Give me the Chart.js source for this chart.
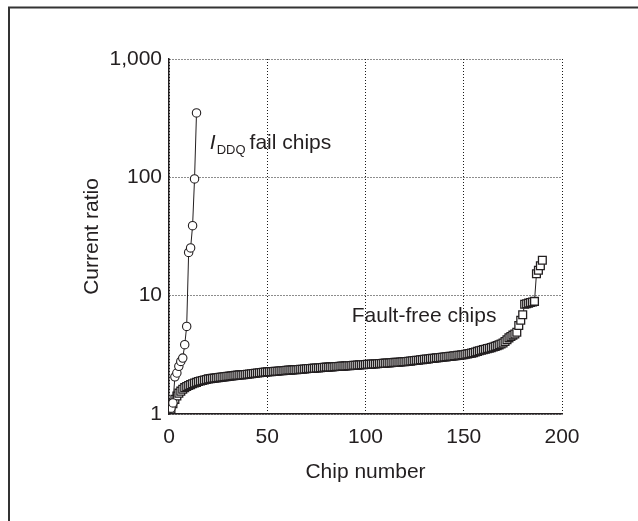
<!DOCTYPE html>
<html>
<head>
<meta charset="utf-8">
<script src="https://cdn.jsdelivr.net/npm/chart.js@4/dist/chart.umd.min.js"></script>
<style>
    html, body { margin: 0; padding: 0; background: #fff; }
    canvas { display: block; }
</style>
</head>
<body>
<canvas id="chart" width="638" height="521"></canvas>
<script>
// IDDQ fail chips (circles)
const failChips = [1, 2, 3, 4, 5, 6, 7, 8, 9, 10, 11, 12, 13, 14];
const failRatios = [1.12, 1.24, 2.06, 2.22, 2.53, 2.78, 2.97, 3.85, 5.5, 23.2, 25.3, 39, 97, 350];

// Fault-free chips (squares), chip 1..190
const faultFreeRatios = [
    1.10, 1.22, 1.33, 1.42, 1.50, 1.56, 1.62, 1.67, 1.71, 1.74,
    1.77, 1.80, 1.83, 1.85, 1.88, 1.90, 1.92, 1.94, 1.96, 1.98,
    1.99, 2.00, 2.01, 2.02, 2.03, 2.04, 2.05, 2.06, 2.07, 2.08,
    2.09, 2.10, 2.11, 2.12, 2.13, 2.14, 2.14, 2.15, 2.16, 2.17,
    2.18, 2.19, 2.20, 2.21, 2.22, 2.23, 2.24, 2.25, 2.26, 2.27,
    2.28, 2.28, 2.29, 2.30, 2.30, 2.31, 2.32, 2.32, 2.33, 2.34,
    2.35, 2.35, 2.36, 2.37, 2.37, 2.38, 2.39, 2.39, 2.40, 2.41,
    2.42, 2.42, 2.43, 2.44, 2.45, 2.45, 2.46, 2.47, 2.48, 2.49,
    2.49, 2.50, 2.50, 2.51, 2.52, 2.52, 2.53, 2.54, 2.54, 2.55,
    2.56, 2.56, 2.57, 2.58, 2.58, 2.59, 2.60, 2.61, 2.61, 2.62,
    2.63, 2.63, 2.64, 2.65, 2.65, 2.66, 2.67, 2.67, 2.68, 2.69,
    2.70, 2.70, 2.71, 2.72, 2.73, 2.74, 2.74, 2.75, 2.76, 2.77,
    2.78, 2.79, 2.80, 2.82, 2.83, 2.84, 2.85, 2.87, 2.88, 2.90,
    2.91, 2.92, 2.94, 2.95, 2.96, 2.98, 2.99, 3.00, 3.02, 3.03,
    3.04, 3.06, 3.07, 3.08, 3.10, 3.11, 3.13, 3.14, 3.16, 3.17,
    3.20, 3.22, 3.25, 3.27, 3.30, 3.34, 3.38, 3.42, 3.46, 3.50,
    3.53, 3.57, 3.60, 3.64, 3.68, 3.73, 3.78, 3.84, 3.91, 3.98,
    4.10, 4.24, 4.40, 4.52, 4.64, 4.75, 4.90, 5.60, 6.20, 6.90,
    8.45, 8.55, 8.65, 8.75, 8.85, 8.95, 15.3, 16.4, 17.9, 19.9
];

const xTickValues = [0, 50, 100, 150, 200];
const yTickValues = [1, 10, 100, 1000];
const yTickLabels = ['1', '10', '100', '1,000'];

const INK = '#231f20';
const FONT = "'Liberation Sans', Arial, Helvetica, sans-serif";
const FS = 21;

// frame + white page
const framePlugin = {
    id: 'frame',
    beforeDraw(chart) {
        const { ctx, width, height } = chart;
        ctx.save();
        ctx.fillStyle = '#fff';
        ctx.fillRect(0, 0, width, height);
        ctx.strokeStyle = '#333';
        ctx.lineWidth = 2;
        ctx.beginPath();
        ctx.moveTo(9, height);
        ctx.lineTo(9, 7.5);
        ctx.lineTo(width, 7.5);
        ctx.stroke();
        ctx.restore();
    }
};

// series labels written inside the plot
const labelPlugin = {
    id: 'seriesLabels',
    afterDatasetsDraw(chart) {
        const { ctx } = chart;
        const x = chart.scales.x, y = chart.scales.y;
        ctx.save();
        ctx.fillStyle = INK;
        ctx.textBaseline = 'alphabetic';

        // I_DDQ fail chips
        let px = x.getPixelForValue(20.8);
        const py = y.getPixelForValue(175);
        ctx.font = `italic ${FS}px ${FONT}`;
        ctx.fillText('I', px, py);
        px += ctx.measureText('I').width + 1;
        ctx.font = `13px ${FONT}`;
        ctx.fillText('DDQ', px, py + 5);
        px += ctx.measureText('DDQ').width + 4;
        ctx.font = `${FS}px ${FONT}`;
        ctx.fillText('fail chips', px, py);

        // Fault-free chips
        ctx.fillText('Fault-free chips', x.getPixelForValue(93), y.getPixelForValue(5.95));
        ctx.restore();
    }
};

new Chart(document.getElementById('chart'), {
    type: 'line',
    data: {
        datasets: [{
            label: 'IDDQ fail chips',
            data: failChips.map((c, i) => ({ x: c, y: failRatios[i] })),
            borderColor: INK,
            borderWidth: 1,
            pointStyle: 'circle',
            pointRadius: 4.2,
            pointBackgroundColor: '#fff',
            pointBorderColor: INK,
            pointBorderWidth: 1.1,
            tension: 0
        }, {
            label: 'Fault-free chips',
            data: faultFreeRatios.map((v, i) => ({ x: i + 1, y: v })),
            borderColor: INK,
            borderWidth: 1,
            pointStyle: 'rect',
            pointRadius: 5.5,
            pointBackgroundColor: '#fff',
            pointBorderColor: INK,
            pointBorderWidth: 1.3,
            tension: 0
        }]
    },
    options: {
        responsive: false,
        animation: false,
        events: [],
        layout: {
            padding: { left: 0, top: 59, right: 76, bottom: 0 }
        },
        plugins: {
            legend: { display: false },
            tooltip: { enabled: false }
        },
        scales: {
            x: {
                type: 'linear',
                min: 0,
                max: 200,
                afterBuildTicks: (scale) => {
                    scale.ticks = xTickValues.map(v => ({ value: v }));
                },
                afterFit: (scale) => { scale.height = 107; },
                ticks: {
                    color: INK,
                    font: { family: FONT, size: FS },
                    padding: 11,
                    maxRotation: 0
                },
                grid: {
                    color: '#1a1a1a',
                    lineWidth: 1,
                    drawTicks: false
                },
                border: { display: true, color: INK, width: 1.5, dash: [1, 2] },
                title: {
                    display: true,
                    text: 'Chip number',
                    color: INK,
                    font: { family: FONT, size: FS },
                    padding: { top: 0, bottom: 36 }
                }
            },
            y: {
                type: 'logarithmic',
                min: 1,
                max: 1000,
                afterBuildTicks: (scale) => {
                    scale.ticks = yTickValues.map(v => ({ value: v }));
                },
                afterFit: (scale) => { scale.width = 169; },
                ticks: {
                    color: INK,
                    font: { family: FONT, size: FS },
                    padding: 7,
                    callback: (v) => yTickLabels[yTickValues.indexOf(v)] ?? ''
                },
                grid: {
                    color: '#1a1a1a',
                    lineWidth: 1,
                    drawTicks: false
                },
                border: { display: true, color: INK, width: 1.5, dash: [1, 2] },
                title: {
                    display: true,
                    text: 'Current ratio',
                    color: INK,
                    font: { family: FONT, size: FS },
                    padding: { top: 80, bottom: 0 }
                }
            }
        }
    },
    plugins: [framePlugin, labelPlugin]
});
</script>
</body>
</html>
